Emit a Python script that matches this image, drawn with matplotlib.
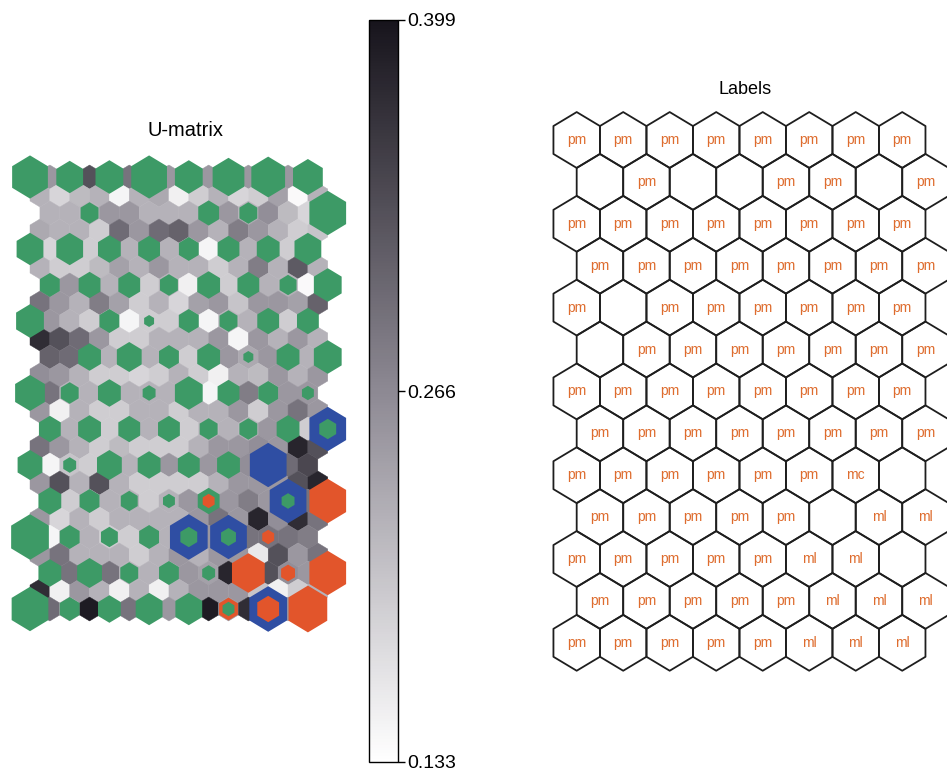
import numpy as np
import matplotlib.pyplot as plt
from matplotlib.collections import PolyCollection
from matplotlib.colors import LinearSegmentedColormap, Normalize

plt.rcParams['font.family'] = ['Liberation Sans', 'DejaVu Sans']

# --- U-matrix values (25 rows x 15 cols) ---
umat = np.array([
    [.22, .25, .22, .33, .22, .29, .22, .25, .22, .25, .22, .25, .22, .25, .22],
    [.22, .18, .21, .22, .145, .22, .23, .15, .19, .22, .18, .19, .24, .14, .22],
    [.22, .22, .22, .25, .25, .22, .22, .22, .22, .25, .22, .26, .21, .18, .22],
    [.23, .22, .22, .19, .30, .25, .30, .31, .25, .22, .28, .25, .22, .19, .20],
    [.22, .18, .22, .19, .22, .22, .22, .22, .22, .145, .22, .22, .22, .19, .22],
    [.22, .19, .19, .21, .24, .22, .25, .22, .22, .19, .22, .28, .22, .32, .22],
    [.22, .25, .22, .22, .22, .19, .22, .15, .22, .19, .22, .22, .22, .14, .22],
    [.29, .25, .22, .28, .24, .19, .22, .18, .24, .25, .20, .25, .25, .24, .31],
    [.22, .25, .22, .19, .22, .145, .19, .19, .22, .145, .22, .22, .22, .19, .22],
    [.37, .33, .30, .25, .19, .19, .22, .22, .22, .25, .145, .25, .22, .25, .22],
    [.31, .30, .22, .22, .22, .22, .22, .19, .22, .25, .23, .25, .22, .22, .22],
    [.26, .25, .22, .19, .19, .18, .19, .22, .19, .15, .22, .21, .25, .22, .25],
    [.22, .29, .22, .22, .22, .22, .22, .22, .22, .145, .22, .28, .22, .25, .25],
    [.25, .15, .22, .19, .19, .22, .22, .19, .22, .22, .25, .19, .25, .29, .25],
    [.22, .22, .22, .19, .22, .22, .22, .19, .22, .22, .22, .25, .22, .19, .22],
    [.29, .25, .22, .19, .21, .19, .19, .19, .22, .25, .25, .26, .25, .38, .33],
    [.22, .145, .20, .19, .22, .22, .22, .25, .22, .25, .22, .26, .25, .30, .34],
    [.25, .33, .22, .33, .22, .19, .19, .19, .19, .22, .25, .25, .25, .33, .38],
    [.22, .19, .22, .22, .22, .19, .22, .25, .22, .25, .28, .25, .25, .29, .25],
    [.25, .18, .22, .19, .22, .22, .22, .22, .25, .29, .25, .38, .26, .37, .29],
    [.22, .145, .22, .22, .19, .19, .22, .22, .25, .25, .25, .29, .29, .29, .28],
    [.25, .29, .22, .22, .22, .19, .22, .25, .22, .25, .25, .16, .33, .25, .29],
    [.22, .29, .22, .29, .22, .22, .22, .25, .24, .38, .25, .33, .26, .25, .25],
    [.37, .15, .25, .22, .15, .22, .15, .22, .25, .25, .25, .20, .15, .19, .22],
    [.22, .30, .22, .39, .22, .29, .22, .25, .22, .39, .25, .37, .25, .25, .25],
])
umin, umax = 0.133, 0.399
cbar_ticks = [0.133, 0.266, 0.399]

# --- hit markers per map unit (13 x 8), size relative to a U-matrix cell ---
hits_green = np.array([
    [1.8, 1.35, 1.4, 1.8, 1.4, 1.6, 1.7, 1.5],
    [0, 0.9, 0, 0, 1.05, 0.9, 0, 1.85],
    [1.35, 1.35, 1.15, 1.1, 1.0, 1.1, 1.15, 1.35],
    [1.0, 1.1, 1.1, 0.9, 1.15, 1.1, 0.85, 1.4],
    [1.4, 0, 1.0, 0.5, 1.0, 0.9, 1.1, 1.1],
    [0, 1.15, 1.25, 1.0, 1.15, 0.5, 1.15, 1.4],
    [1.5, 0.9, 1.15, 0.65, 1.4, 1.1, 1.0, 0.6],
    [1.1, 1.15, 1.1, 1.1, 0.9, 0.9, 1.15, 0.85],
    [1.25, 0.65, 1.25, 1.15, 1.1, 1.15, 0, 0],
    [1.15, 1.0, 0.85, 0.6, 1.1, 0, 0.65, 0],
    [1.9, 1.0, 0.85, 1.0, 0.85, 0.75, 0, 0],
    [1.15, 1.25, 0.9, 1.0, 0.65, 0, 0, 0],
    [1.85, 1.0, 1.15, 1.35, 1.35, 0.6, 0, 0],
])
hits_blue = np.zeros((13, 8))
hits_blue[7, 7] = 1.85
hits_blue[8, 6] = 1.85
hits_blue[9, 6] = 1.85
hits_blue[10, 4] = 1.9
hits_blue[10, 5] = 1.85
hits_blue[12, 6] = 1.9
hits_red = np.zeros((13, 8))
hits_red[9, 4] = 0.6
hits_red[9, 7] = 1.85
hits_red[10, 6] = 0.6
hits_red[11, 5] = 1.65
hits_red[11, 6] = 0.7
hits_red[11, 7] = 1.85
hits_red[12, 5] = 0.95
hits_red[12, 6] = 1.1
hits_red[12, 7] = 1.95

hit_colors = {'green': '#3d9a66', 'blue': '#2f4ea3', 'red': '#e2552b'}

# --- unit labels (13 x 8) ---
labels = [
    ['pm', 'pm', 'pm', 'pm', 'pm', 'pm', 'pm', 'pm'],
    ['', 'pm', '', '', 'pm', 'pm', '', 'pm'],
    ['pm', 'pm', 'pm', 'pm', 'pm', 'pm', 'pm', 'pm'],
    ['pm', 'pm', 'pm', 'pm', 'pm', 'pm', 'pm', 'pm'],
    ['pm', '', 'pm', 'pm', 'pm', 'pm', 'pm', 'pm'],
    ['', 'pm', 'pm', 'pm', 'pm', 'pm', 'pm', 'pm'],
    ['pm', 'pm', 'pm', 'pm', 'pm', 'pm', 'pm', 'pm'],
    ['pm', 'pm', 'pm', 'pm', 'pm', 'pm', 'pm', 'pm'],
    ['pm', 'pm', 'pm', 'pm', 'pm', 'pm', 'mc', ''],
    ['pm', 'pm', 'pm', 'pm', 'pm', '', 'ml', 'ml'],
    ['pm', 'pm', 'pm', 'pm', 'pm', 'ml', 'ml', ''],
    ['pm', 'pm', 'pm', 'pm', 'pm', 'ml', 'ml', 'ml'],
    ['pm', 'pm', 'pm', 'pm', 'pm', 'ml', 'ml', 'ml'],
]


def hexagon(x, y, w=1.0):
    # pointy-top hexagon, width w, rows spaced 1 apart
    return [(x + w / 2, y - w / 3), (x, y - 2 * w / 3), (x - w / 2, y - w / 3),
            (x - w / 2, y + w / 3), (x, y + 2 * w / 3), (x + w / 2, y + w / 3)]


def ushift(i):
    # row offsets of the hexagonal U-matrix grid
    if i % 2 == 1:
        return 0.5
    return 1.0 if i % 4 == 2 else 0.0


W, H = 947, 774
fig = plt.figure(figsize=(W / 100, H / 100), dpi=100)


def px_axes(left, top, right, bottom):
    return fig.add_axes([left / W, 1 - bottom / H, (right - left) / W, (bottom - top) / H])


cmap = LinearSegmentedColormap.from_list('ugray', ['#ffffff', '#8d8993', '#17141c'])
norm = Normalize(vmin=umin, vmax=umax)

# --- U-matrix ---
ax = px_axes(0, 140, 360, 650)
cells = []
vals = []
for i in range(umat.shape[0]):
    for j in range(umat.shape[1]):
        cells.append(hexagon(j + ushift(i), i))
        vals.append(umat[i, j])
pc = PolyCollection(cells, array=np.array(vals), cmap=cmap, norm=norm,
                    edgecolors='face', linewidths=0.3)
ax.add_collection(pc)

marks, mcols = [], []
for r in range(13):
    for c in range(8):
        items = [(hits_green[r, c], hit_colors['green']),
                 (hits_blue[r, c], hit_colors['blue']),
                 (hits_red[r, c], hit_colors['red'])]
        items = sorted([it for it in items if it[0] > 0], key=lambda t: -t[0])
        for s, col in items:
            marks.append(hexagon(2 * c + r % 2, 2 * r, s))
            mcols.append(col)
ax.add_collection(PolyCollection(marks, facecolors=mcols, edgecolors='none', zorder=3))
ax.set_xlim(-30 / 19.85, 330 / 19.85)
ax.set_ylim((650 - 177) / 18, (140 - 177) / 18)
ax.axis('off')
fig.text(185 / W, 1 - 130 / H, 'U-matrix', ha='center', va='center', fontsize=14.5)

# --- colorbar ---
cax = px_axes(369, 20, 398, 762)
cb = fig.colorbar(pc, cax=cax, ticks=cbar_ticks)
cb.ax.set_yticklabels(['%.3f' % t for t in cbar_ticks], fontsize=14)
cb.ax.tick_params(direction='out', length=5, width=1, pad=1.5)
cb.outline.set_linewidth(1)

# --- labels map ---
axl = px_axes(540, 95, 947, 700)
grid = []
for r in range(13):
    for c in range(8):
        x = c + 0.5 * (r % 2)
        grid.append(hexagon(x, r))
        if labels[r][c]:
            axl.text(x, r, labels[r][c], ha='center', va='center',
                     fontsize=10, color='#de6c2e')
axl.add_collection(PolyCollection(grid, facecolors='none', edgecolors='#1e1e1e',
                                  linewidths=1.3))
axl.set_xlim(-0.789, 7.963)
axl.set_ylim(13.365, -1.074)
axl.axis('off')
fig.text(745 / W, 1 - 90 / H, 'Labels', ha='center', va='center', fontsize=13)

fig.savefig('out.png', dpi=100)
